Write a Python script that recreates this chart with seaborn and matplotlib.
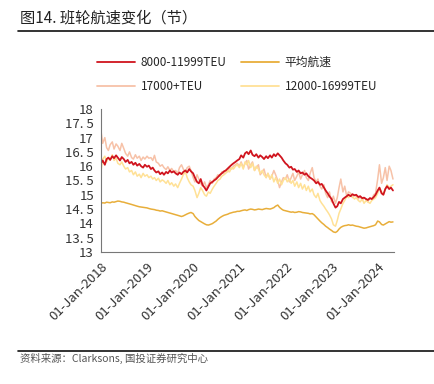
import pandas as pd
import numpy as np
import matplotlib
matplotlib.use('Agg')
import matplotlib.pyplot as plt
import matplotlib.dates as mdates
from matplotlib.lines import Line2D
import seaborn as sns

sns.set_style('white')
plt.rcParams['font.family'] = ['Noto Sans CJK SC', 'DejaVu Sans']

# semi-monthly readings, 2018-01-01 .. 2024-05-01
dates = pd.date_range('2018-01-01', periods=153, freq='SMS')

avg_speed = [
    14.70, 14.72, 14.71, 14.74, 14.73, 14.72, 14.75, 14.74, 14.76, 14.78, 14.77, 14.75, 14.74, 14.72, 14.70, 14.68, 14.66, 14.64, 14.62, 14.60, 14.58, 14.57, 14.56, 14.55,
    14.54, 14.52, 14.50, 14.49, 14.48, 14.46, 14.45, 14.43, 14.44, 14.42, 14.40, 14.38, 14.36, 14.34, 14.32, 14.30, 14.28, 14.26, 14.24, 14.26, 14.30, 14.33, 14.36, 14.38,
    14.34, 14.24, 14.16, 14.10, 14.06, 14.02, 13.98, 13.95, 13.94, 13.96, 13.99, 14.03, 14.08, 14.14, 14.20, 14.24, 14.28, 14.30, 14.32, 14.35, 14.37, 14.39, 14.40, 14.42,
    14.42, 14.44, 14.46, 14.47, 14.45, 14.48, 14.50, 14.49, 14.47, 14.48, 14.50, 14.49, 14.48, 14.50, 14.52, 14.51, 14.50, 14.52, 14.55, 14.60, 14.64, 14.56, 14.50, 14.46,
    14.44, 14.42, 14.40, 14.39, 14.40, 14.38, 14.39, 14.41, 14.40, 14.38, 14.37, 14.36, 14.35, 14.33, 14.34, 14.30, 14.22, 14.15, 14.08, 14.02, 13.96, 13.90, 13.85, 13.80,
    13.75, 13.70, 13.68, 13.72, 13.80, 13.86, 13.90, 13.92, 13.93, 13.95, 13.93, 13.94, 13.92, 13.90, 13.89, 13.87, 13.85, 13.83, 13.84, 13.86, 13.88, 13.90, 13.92, 13.95,
    14.08, 14.05, 13.96, 13.94, 13.98, 14.02, 14.06, 14.04, 14.05,
]

teu_8000 = [
    16.10, 16.20, 16.05, 16.25, 16.30, 16.22, 16.35, 16.28, 16.38, 16.30, 16.20, 16.32, 16.25, 16.15, 16.22, 16.10, 16.15, 16.05, 16.12, 16.02, 16.08, 16.00, 15.95, 16.05,
    15.98, 16.02, 15.90, 15.95, 15.85, 15.78, 15.82, 15.72, 15.78, 15.70, 15.80, 15.75, 15.85, 15.78, 15.82, 15.75, 15.70, 15.78, 15.72, 15.80, 15.85, 15.78, 15.90, 15.82,
    15.75, 15.60, 15.45, 15.40, 15.55, 15.35, 15.25, 15.15, 15.28, 15.40, 15.45, 15.50, 15.55, 15.62, 15.70, 15.75, 15.82, 15.85, 15.92, 15.98, 16.05, 16.10, 16.15, 16.20,
    16.25, 16.38, 16.30, 16.45, 16.50, 16.42, 16.55, 16.40, 16.35, 16.42, 16.30, 16.38, 16.32, 16.25, 16.35, 16.28, 16.38, 16.30, 16.42, 16.35, 16.45, 16.38, 16.30, 16.20,
    16.10, 16.05, 15.95, 15.98, 15.88, 15.90, 15.80, 15.85, 15.75, 15.78, 15.70, 15.75, 15.65, 15.60, 15.55, 15.50, 15.40, 15.45, 15.35, 15.38, 15.25, 15.15, 15.05, 14.95,
    14.85, 14.70, 14.55, 14.60, 14.75, 14.70, 14.85, 14.90, 14.95, 15.00, 14.95, 15.02, 14.98, 15.00, 14.92, 14.95, 14.88, 14.90, 14.85, 14.82, 14.88, 14.85, 14.92, 15.00,
    15.15, 15.25, 15.05, 15.00, 15.20, 15.30, 15.20, 15.25, 15.15,
]

teu_17000 = [
    17.25, 16.80, 17.00, 16.65, 16.55, 16.75, 16.85, 16.60, 16.78, 16.70, 16.55, 16.80, 16.62, 16.45, 16.35, 16.50, 16.30, 16.25, 16.40, 16.28, 16.35, 16.20, 16.32, 16.25,
    16.35, 16.28, 16.30, 16.20, 16.38, 16.15, 16.10, 16.00, 16.05, 15.95, 15.88, 15.98, 15.85, 15.92, 15.80, 15.85, 15.75, 15.95, 16.05, 15.90, 15.80, 15.95, 16.00, 15.85,
    15.60, 15.45, 15.70, 15.55, 15.40, 15.30, 15.45, 15.25, 15.35, 15.50, 15.40, 15.55, 15.60, 15.70, 15.65, 15.80, 15.75, 15.85, 15.80, 15.95, 15.90, 16.00, 16.05, 16.10,
    16.00, 16.15, 15.95, 16.10, 16.20, 15.90, 16.05, 16.15, 15.85, 15.95, 16.05, 15.70, 15.80, 15.90, 15.60, 15.75, 15.55, 15.65, 15.85, 15.70, 15.50, 15.25, 15.45, 15.60,
    15.55, 15.70, 15.45, 15.60, 15.75, 15.50, 15.65, 15.80, 15.55, 15.70, 15.85, 15.60, 15.50, 15.75, 15.95, 15.60, 15.45, 15.55, 15.30, 15.20, 15.35, 15.05, 14.90, 15.10,
    14.75, 14.95, 14.70, 14.90, 15.25, 15.55, 15.10, 15.30, 14.95, 15.10, 15.05, 14.90, 15.00, 14.95, 14.85, 14.95, 14.80, 14.90, 14.85, 14.75, 14.90, 14.85, 15.00, 15.05,
    15.55, 16.05, 15.40, 15.60, 15.95, 15.50, 16.00, 15.85, 15.55,
]

teu_12000 = [
    15.80, 16.25, 16.35, 16.15, 16.30, 16.22, 16.40, 16.20, 16.28, 16.10, 16.05, 16.15, 16.00, 15.90, 15.95, 15.80, 15.85, 15.70, 15.80, 15.65, 15.72, 15.60, 15.75, 15.65,
    15.70, 15.60, 15.65, 15.55, 15.60, 15.50, 15.58, 15.45, 15.52, 15.48, 15.40, 15.50, 15.35, 15.42, 15.30, 15.38, 15.25, 15.40, 15.55, 15.70, 15.80, 15.60, 15.45, 15.35,
    15.30, 15.15, 14.90, 15.05, 15.25, 15.15, 15.00, 14.95, 15.10, 15.05, 15.20, 15.30, 15.40, 15.50, 15.55, 15.65, 15.70, 15.75, 15.85, 15.80, 15.95, 15.90, 16.00, 16.05,
    15.95, 16.10, 15.90, 16.15, 16.05, 16.20, 15.95, 16.10, 15.85, 16.00, 15.90, 15.75, 15.85, 15.70, 15.60, 15.75, 15.55, 15.70, 15.45, 15.60, 15.40, 15.55, 15.35, 15.50,
    15.60, 15.45, 15.55, 15.40, 15.50, 15.30, 15.45, 15.25, 15.40, 15.20, 15.35, 15.15, 15.30, 15.10, 15.20, 15.00, 14.90, 15.05, 14.80, 14.70, 14.60, 14.50, 14.40, 14.30,
    14.15, 13.95, 13.90, 14.10, 14.35, 14.50, 14.70, 14.80, 14.95, 14.90, 15.00, 14.95, 14.85, 14.90, 14.80, 14.75, 14.85, 14.70, 14.80, 14.75, 14.70, 14.80, 14.85, 14.90,
    15.05, 15.25, 15.10, 15.00, 15.20, 15.35, 15.25, 15.30, 15.35,
]

labels = ['8000-11999TEU', '平均航速', '17000+TEU', '12000-16999TEU']
colors = {'8000-11999TEU': '#D0141E', '平均航速': '#E8AE3A',
          '17000+TEU': '#F7C2A8', '12000-16999TEU': '#FFE196'}

df = pd.DataFrame({'date': dates, '8000-11999TEU': teu_8000, '平均航速': avg_speed,
                   '17000+TEU': teu_17000, '12000-16999TEU': teu_12000})

fig = plt.figure(figsize=(4.35, 3.84), dpi=100)
ax = fig.add_axes([0.232, 0.344, 0.674, 0.372])

# draw order: pale lines underneath
for name in ['17000+TEU', '12000-16999TEU', '8000-11999TEU', '平均航速']:
    lw = 1.3 if name == '8000-11999TEU' else 1.1
    sns.lineplot(data=df, x='date', y=name, ax=ax, color=colors[name], lw=lw, label=name)

ax.set_ylim(13, 18)
ax.set_yticks(np.arange(13, 18.01, 0.5))
ax.set_yticklabels(['13', '13. 5', '14', '14. 5', '15', '15. 5', '16', '16. 5', '17', '17. 5', '18'])
ax.set_xlim(pd.Timestamp('2018-01-01'), pd.Timestamp('2024-05-10'))
ax.xaxis.set_major_locator(mdates.YearLocator())
ax.xaxis.set_major_formatter(mdates.DateFormatter('%d-%b-%Y'))
ax.set_xlabel('')
ax.set_ylabel('')
for lab in ax.get_xticklabels():
    lab.set_rotation(45)
    lab.set_ha('right')
    lab.set_rotation_mode('anchor')
ax.tick_params(axis='both', direction='out', length=3, width=0.8, color='#777777',
               labelsize=9.5, labelcolor='#333333', pad=2)
ax.tick_params(axis='x', labelsize=9.5, pad=3)
for s in ['top', 'right']:
    ax.spines[s].set_visible(False)
for s in ['left', 'bottom']:
    ax.spines[s].set_color('#777777')
    ax.spines[s].set_linewidth(0.8)

ax.get_legend().remove()
handles = [Line2D([], [], color=colors[n], lw=1.3) for n in labels]
order = [0, 2, 1, 3]
fig.legend([handles[i] for i in order], [labels[i] for i in order],
           loc='center', bbox_to_anchor=(0.545, 0.806), ncol=2, frameon=False,
           fontsize=8.5, handlelength=3.2, columnspacing=1.2, labelspacing=0.9,
           handletextpad=0.5)

fig.text(0.045, 1 - 18 / 384, '图14. 班轮航速变化（节）', fontsize=11, color='#222222',
         va='center', ha='left')
fig.add_artist(Line2D([0.041, 1.0], [0.919, 0.919], color='#111111', lw=1.2,
                      transform=fig.transFigure))
fig.add_artist(Line2D([0.041, 1.0], [0.086, 0.086], color='#111111', lw=1.2,
                      transform=fig.transFigure))
fig.text(0.045, 0.067, '资料来源：Clarksons, 国投证券研究中心', fontsize=7.5,
         color='#555555', style='italic', va='center', ha='left')

fig.savefig('out.png', dpi=100)
